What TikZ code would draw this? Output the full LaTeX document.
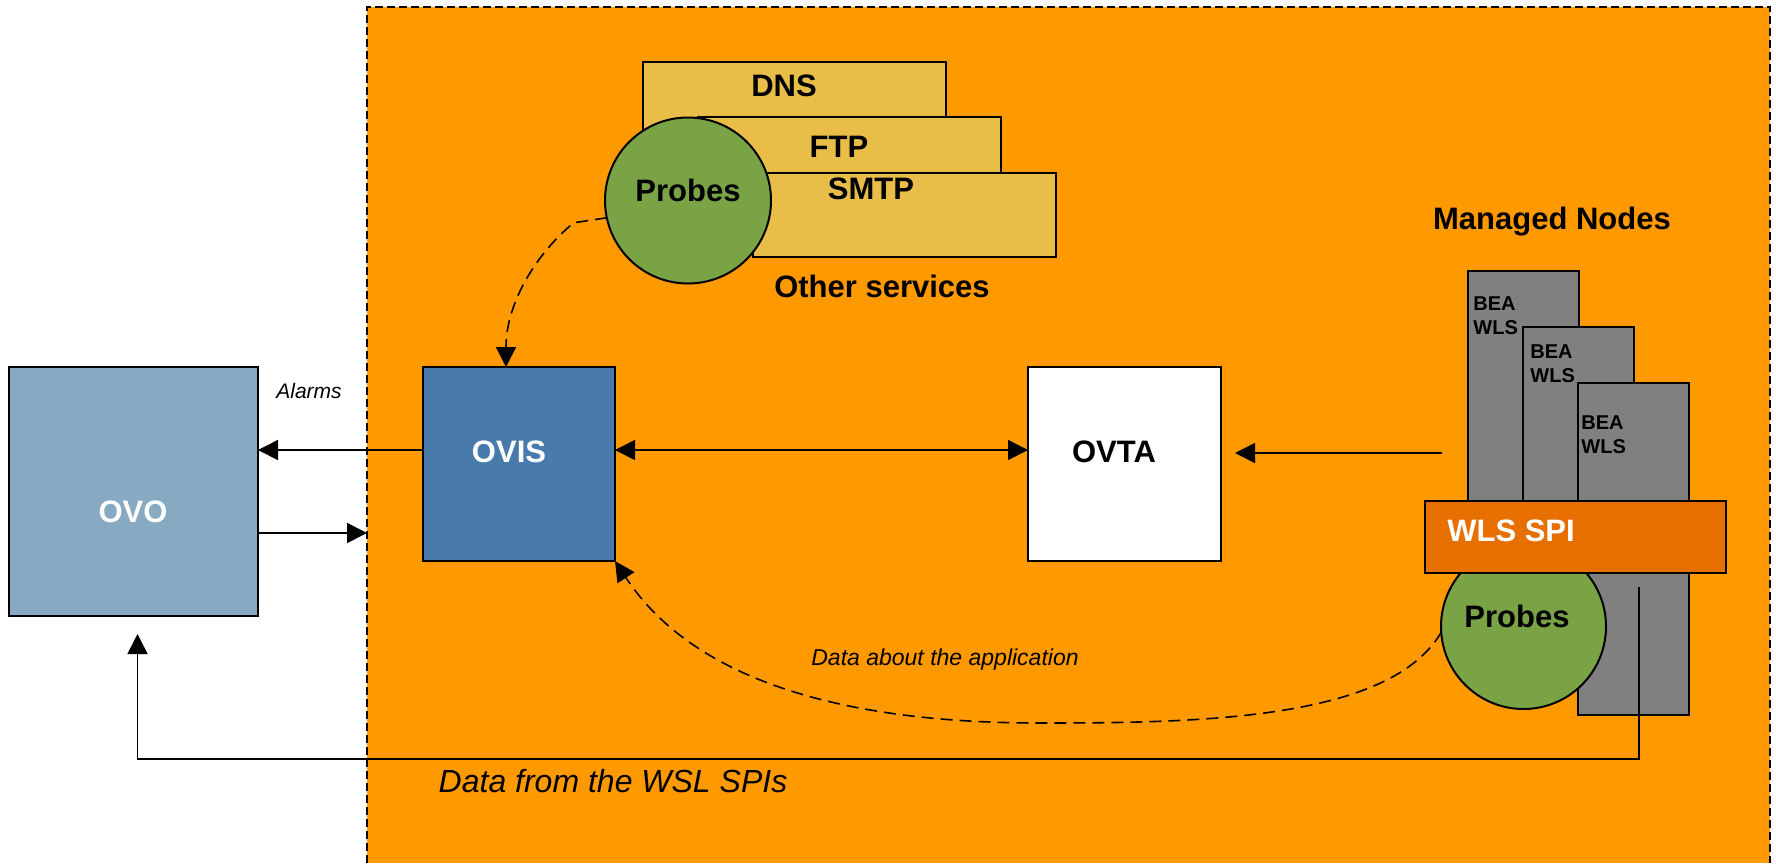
\documentclass[tikz,border=0pt]{standalone}
\usepackage{fontspec}
\setmainfont{Liberation Sans}
\usetikzlibrary{arrows.meta,calc}
\definecolor{bgorange}{HTML}{FF9900}
\definecolor{svcyel}{HTML}{E8BD48}
\definecolor{probegreen}{HTML}{7AA346}
\definecolor{ovoblue}{HTML}{87AAC2}
\definecolor{ovisblue}{HTML}{487BAB}
\definecolor{nodegray}{HTML}{808080}
\definecolor{spiorange}{HTML}{E66F00}
\begin{document}
\begin{tikzpicture}[x=0.5pt,y=-0.5pt,
  box/.style={draw=black, line width=1pt, inner sep=0pt, outer sep=0pt},
  big/.style={font=\fontsize{15.5}{18}\selectfont\bfseries, inner sep=0pt},
  bea/.style={font=\fontsize{10}{12}\selectfont\bfseries, align=left, inner sep=0pt, anchor=west},
  itl/.style={font=\itshape, inner sep=0pt},
  conn/.style={line width=0.8pt, -{Triangle[length=10pt,width=10pt]}},
  conntwo/.style={line width=0.8pt, {Triangle[length=10pt,width=10pt]}-{Triangle[length=10pt,width=10pt]}},
  dconn/.style={conn, dash pattern=on 6pt off 3.5pt}]
\useasboundingbox (0,0) rectangle (1776,863);
% background region
\fill[bgorange] (367,7) rectangle (1770,863);
\draw[line width=0.6pt, dash pattern=on 4pt off 2pt] (367,863) -- (367,7) -- (1770,7) -- (1770,863);
% other services
\node[box, fill=svcyel, minimum width=151.5pt, minimum height=49pt] (dns) at (794.5,111) {};
\node[box, fill=svcyel, minimum width=151.5pt, minimum height=46.5pt] (ftp) at (849.5,163.5) {};
\node[box, fill=svcyel, minimum width=151.5pt, minimum height=42pt] (smtp) at (904.5,215) {};
\node[box, circle, fill=probegreen, minimum size=83pt] (prb1) at (688,200.5) {};
\node[big] (dnsT) at (784,86) {DNS};
\node[big] (ftpT) at (839,147) {FTP};
\node[big] (smtpT) at (871,189) {SMTP};
\node[big] (prb1T) at (688,190) {Probes};
\node[big] (othT) at (882,286) {Other services};
% managed nodes
\node[box, fill=nodegray, minimum width=55.5pt, minimum height=144.5pt] (g1) at (1523.5,415.5) {};
\node[box, fill=nodegray, minimum width=55.5pt, minimum height=116.5pt] (g2) at (1578.5,443.5) {};
\node[box, fill=nodegray, minimum width=55.5pt, minimum height=166pt] (g3) at (1633.5,549) {};
\node[box, circle, fill=probegreen, minimum size=82.5pt] (prb2) at (1523.5,626.5) {};
\node[box, fill=spiorange, minimum width=150.5pt, minimum height=36pt] (spi) at (1575.5,537) {};
\node[bea] (b1) at (1473,316) {BEA\\WLS};
\node[bea] (b2) at (1530,364) {BEA\\WLS};
\node[bea] (b3) at (1581,435) {BEA\\WLS};
\node[big, text=white] (spiT) at (1511,531) {WLS SPI};
\node[big] (prb2T) at (1517,616) {Probes};
\node[big] (mnT) at (1552,222) {Managed Nodes};
% main boxes
\node[box, fill=ovoblue, minimum width=124.5pt, minimum height=124.5pt] (ovo) at (133.5,491.5) {};
\node[box, fill=ovisblue, minimum width=96pt, minimum height=97pt] (ovis) at (519,464) {};
\node[box, fill=white, minimum width=96.5pt, minimum height=97pt] (ovta) at (1124.5,464) {};
\node[big, text=white] (ovoT) at (133,512) {OVO};
\node[big, text=white] (ovisT) at (509,452) {OVIS};
\node[big] (ovtaT) at (1114,452) {OVTA};
% labels
\node[itl, font=\fontsize{10.5}{12}\selectfont\itshape] (alarmT) at (309,391) {Alarms};
\node[itl, font=\fontsize{11.5}{14}\selectfont\itshape] (dataT) at (945,660) {Data about the application};
\node[itl, font=\fontsize{16}{19}\selectfont\itshape] (wslT) at (613,781) {Data from the WSL SPIs};
% connectors
\coordinate (bordL) at (367,533);
\coordinate (mnL) at (1442,453);
\coordinate (ovtaR) at ([xshift=7pt]ovta.east);
\coordinate (spiS) at (1639,587);
\coordinate (botR) at (1639,759);
\coordinate (ovoA) at ([xshift=2pt,yshift=-9pt]ovo.south);
\coordinate (dlow) at (1040,723);
\draw[conn] ([yshift=7pt]ovis.west) coordinate (a1) -- (a1 -| ovo.east);
\draw[conn] (ovo.east |- bordL) -- (bordL);
\draw[conntwo] ([yshift=7pt]ovis.east) -- ([yshift=7pt]ovta.west);
\draw[conn] (mnL) -- (mnL -| ovtaR);
\draw[conn] (spiS) -- (botR) -- (botR -| ovoA) -- (ovoA);
\draw[dconn] (prb1.192) -- ++(-33,5) .. controls (540,250) and (506,300) .. ($(ovis.north)+(-13,0)$);
\draw[dconn] (prb2.184) .. controls (1390,720) and (1200,723) .. (dlow) .. controls (800,723) and (680,660) .. (ovis.south east);
\end{tikzpicture}
\end{document}
